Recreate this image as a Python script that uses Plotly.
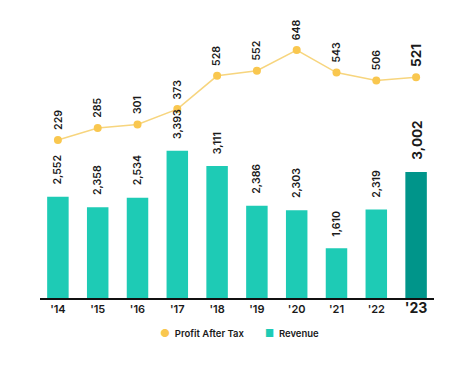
import plotly.graph_objects as go

years = ["'14", "'15", "'16", "'17", "'18", "'19", "'20", "'21", "'22", "'23"]
revenue = [2552, 2358, 2534, 3393, 3111, 2386, 2303, 1610, 2319, 3002]
profit = [229, 285, 301, 373, 528, 552, 648, 543, 506, 521]

bar_colors = ["#1ECBB5"] * 9 + ["#00958A"]
line_color = "#F7D57E"
marker_color = "#F9C74F"

fig = go.Figure()
fig.add_trace(go.Scatter(
    x=years, y=profit, yaxis="y2", mode="lines+markers", name="Profit After Tax",
    line=dict(color=line_color, width=1.5),
    marker=dict(color=marker_color, size=8),
    showlegend=False,
))
fig.add_trace(go.Bar(
    x=years, y=revenue, name="Revenue", marker=dict(color=bar_colors, line=dict(width=0)),
    width=0.54, showlegend=False,
))

ann = []
for i, (x, v) in enumerate(zip(years, revenue)):
    last = i == len(years) - 1
    ann.append(dict(
        x=x, y=v, xref="x", yref="y", text=f"{v:,}", textangle=-90, showarrow=False,
        xanchor="center", yanchor="bottom", yshift=10,
        font=dict(family="Inter", size=13.5 if last else 10.5, color="#1a1a1a",
                  weight=700 if last else 600),
    ))
for i, (x, v) in enumerate(zip(years, profit)):
    last = i == len(years) - 1
    ann.append(dict(
        x=x, y=v, xref="x", yref="y2", text=f"{v:,}", textangle=-90, showarrow=False,
        xanchor="center", yanchor="bottom", yshift=8,
        font=dict(family="Inter", size=13.5 if last else 10.5, color="#1a1a1a",
                  weight=700 if last else 600),
    ))

# legend drawn as text
legend_font = dict(family="Inter", size=9.5, color="#1a1a1a", weight=600)
ann.append(dict(
    x=0.300, y=-0.126, xref="paper", yref="paper", xanchor="left", yanchor="middle",
    showarrow=False, font=legend_font,
    text=f"<span style='color:{marker_color};font-size:11px'>●</span>&nbsp; Profit After Tax",
))
ann.append(dict(
    x=0.566, y=-0.126, xref="paper", yref="paper", xanchor="left", yanchor="middle",
    showarrow=False, font=legend_font,
    text="<span style='color:#1ECBB5;font-size:10px'>■</span>&nbsp; Revenue",
))

ticktext = [y if y != "'23" else "<span style='font-size:14px'><b>'23</b></span>" for y in years]

fig.update_layout(
    width=474, height=379,
    margin=dict(l=32, r=48, t=12, b=89),
    paper_bgcolor="white", plot_bgcolor="white",
    showlegend=False,
    xaxis=dict(type="category", tickmode="array", tickvals=years, ticktext=ticktext,
               range=[-0.45, 9.45],
               showline=True, linecolor="#111111", linewidth=1.5, ticks="",
               tickfont=dict(family="Inter", size=11, color="#1a1a1a", weight=600),
               showgrid=False, zeroline=False),
    yaxis=dict(range=[700, 5782], visible=False, showgrid=False),
    yaxis2=dict(range=[-507, 788], overlaying="y", visible=False, showgrid=False),
    annotations=ann,
    font=dict(family="Inter"),
)

fig.write_html("out.html")
